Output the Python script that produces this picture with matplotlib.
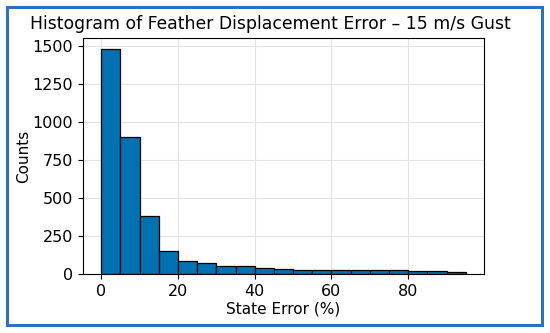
import matplotlib
matplotlib.use("Agg")
import matplotlib.pyplot as plt
from matplotlib.patches import Rectangle
import numpy as np

# histogram bins (State Error %, width 5) and counts
bin_edges = np.arange(0, 100, 5)
counts = [1480, 900, 380, 155, 85, 72, 53, 55, 43, 35,
          30, 28, 28, 28, 25, 24, 17, 20, 16]

title = "Histogram of Feather Displacement Error – 15 m/s Gust"
xlabel = "State Error (%)"
ylabel = "Counts"

fig = plt.figure(figsize=(5.5, 3.33), dpi=100)
ax = fig.add_axes([0.151, 0.177, 0.729, 0.709])

ax.hist(bin_edges[:-1], bins=bin_edges, weights=counts,
        color="#0072B2", edgecolor="black", linewidth=0.9)
ax.set_xticks([0, 20, 40, 60, 80])
ax.set_yticks([0, 250, 500, 750, 1000, 1250, 1500])
ax.grid(True, color="#e3e3e3", linewidth=0.8)
ax.set_axisbelow(True)
ax.tick_params(labelsize=11.5)
ax.set_xlabel(xlabel, fontsize=11, labelpad=2)
ax.set_ylabel(ylabel, fontsize=11, labelpad=1)

# title sits centred on the figure, not the axes
fig.text(0.491, 0.927, title, fontsize=12.4, ha="center", va="center")

# blue frame around the whole figure
fig.patches.append(Rectangle((0.013, 0.024), 0.972, 0.955, transform=fig.transFigure,
                             fill=False, edgecolor="#2a72c0", linewidth=2.2))

fig.savefig("out.png", dpi=100)
